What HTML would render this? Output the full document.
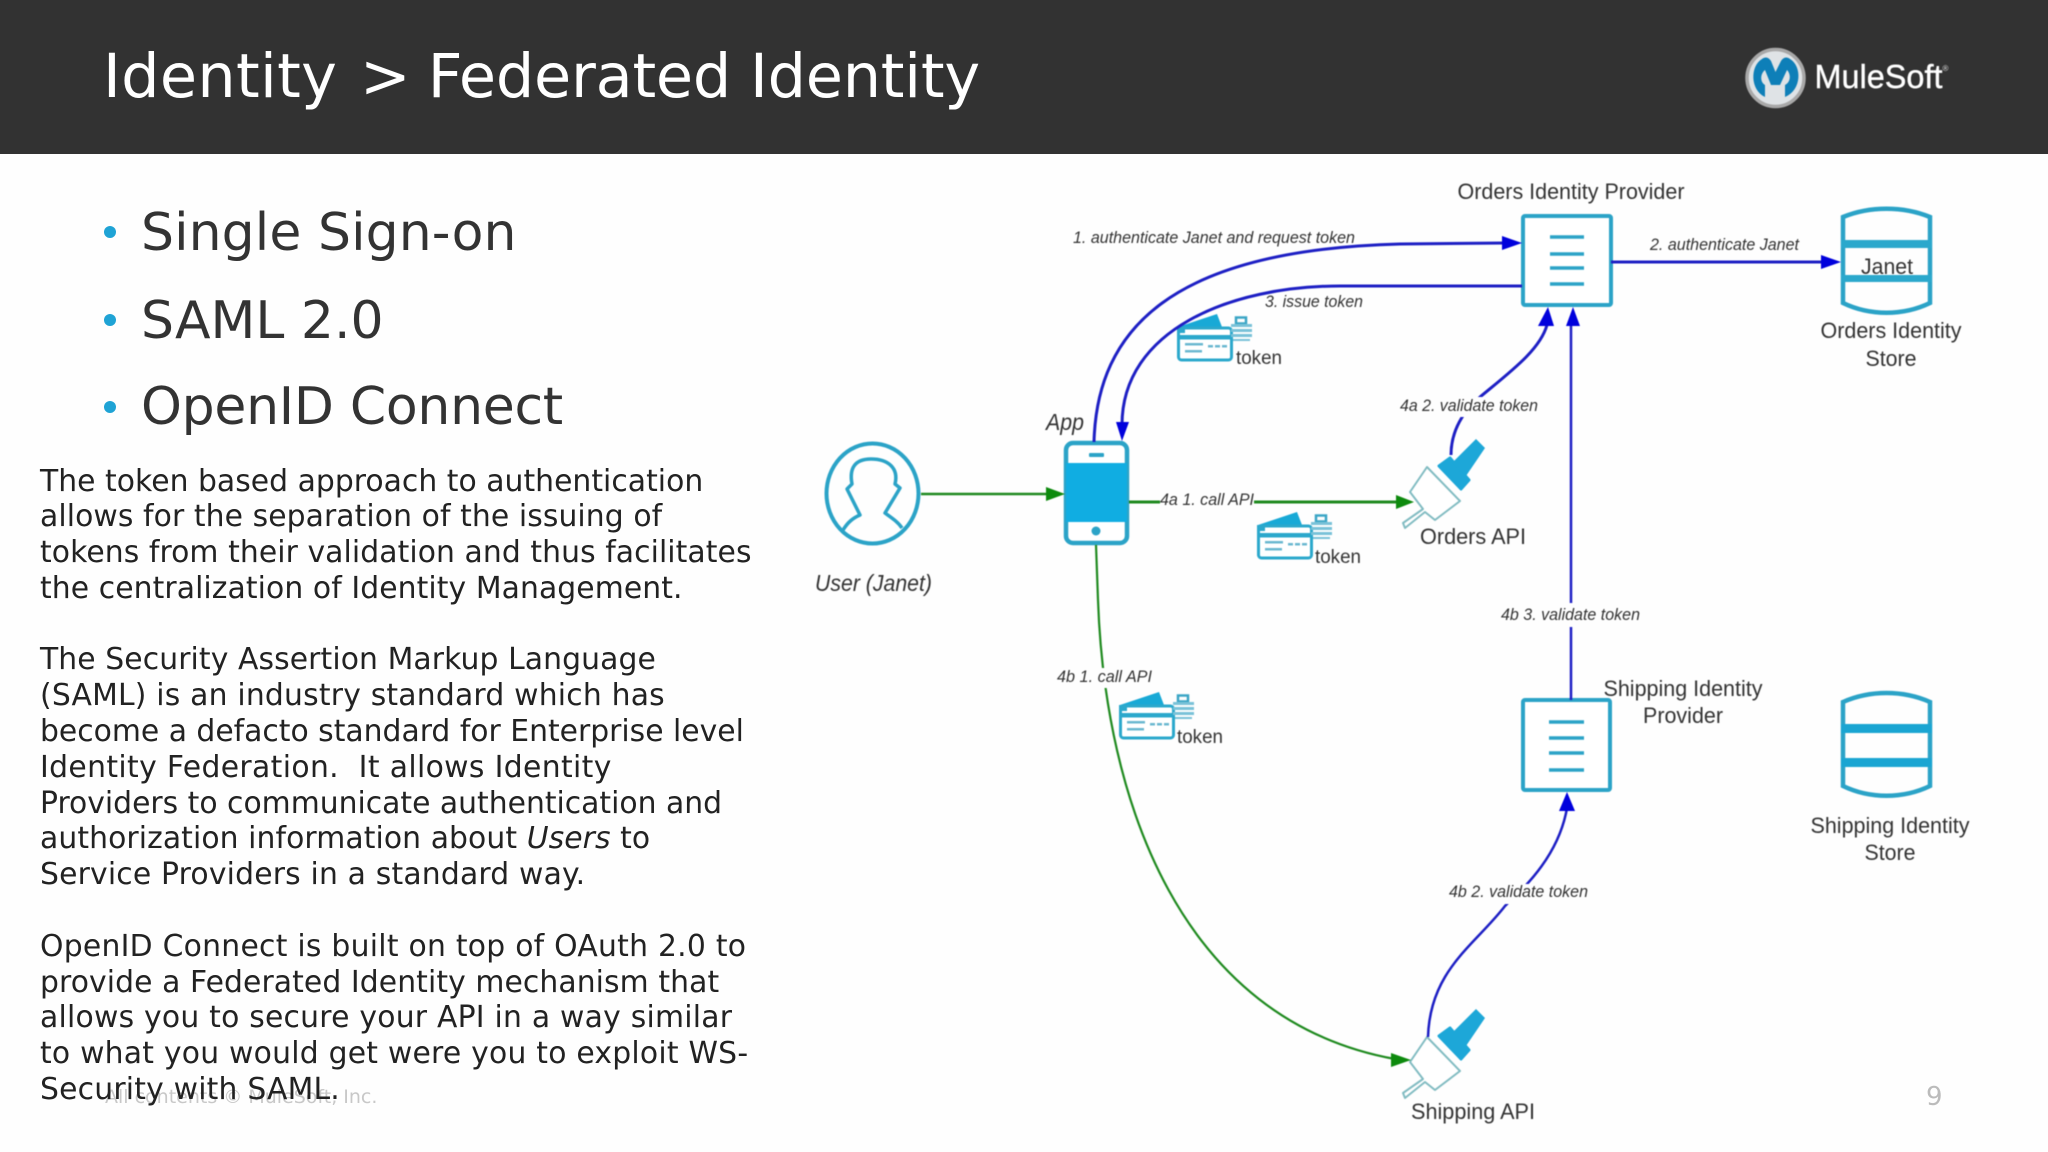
<!DOCTYPE html>
<html lang="en">
<head>
<meta charset="utf-8">
<title>Identity &gt; Federated Identity</title>
<style>
html,body{margin:0;padding:0;background:#fefefe;}
#s{position:relative;width:2048px;height:1152px;overflow:hidden;background:#fefefe;font-family:"DejaVu Sans",Verdana,sans-serif;}
#h{position:absolute;left:0;top:0;width:2048px;height:154px;background:#323232;}
.t{position:absolute;top:41px;font-size:60.45px;line-height:72px;color:#fff;white-space:nowrap;}
.b{position:absolute;left:141px;font-size:52px;line-height:62px;color:#333;white-space:nowrap;}
.d{position:absolute;left:104px;width:12px;height:12px;border-radius:50%;background:#1fa3d5;}
#body{position:absolute;left:40px;top:463.5px;width:760px;font-size:29.8px;line-height:35.8px;color:#222;filter:blur(.3px);}
#body div{height:35.8px;white-space:pre;}
#f{position:absolute;left:105px;top:1085px;font-size:19px;line-height:24px;color:#c8c8c8;white-space:nowrap;}
#n{position:absolute;left:1926px;top:1081px;font-size:26px;line-height:32px;color:#bbb;}
svg{position:absolute;left:0;top:0;}
.l{font-family:"Liberation Sans",sans-serif;font-style:italic;font-size:16.5px;fill:#333;}
.m{font-family:"Liberation Sans",sans-serif;font-size:22px;fill:#333;text-anchor:middle;}
.tk{font-family:"Liberation Sans",sans-serif;font-size:19.5px;fill:#333;}
.c{fill:none;stroke:#2ba3c7;}
#dg{filter:blur(.45px);}
</style>
</head>
<body>
<div id="s">
<div id="h"></div>
<div class="t" style="left:103px;letter-spacing:.33px">Identity</div>
<div class="t" style="left:360px">&gt;</div>
<div class="t" style="left:427.7px;letter-spacing:-.22px">Federated Identity</div>
<div class="d" style="top:226px"></div><div class="b" style="top:202px;letter-spacing:.09px">Single Sign-on</div>
<div class="d" style="top:314px"></div><div class="b" style="top:290px;">SAML 2.0</div>
<div class="d" style="top:401px"></div><div class="b" style="top:376px;letter-spacing:-.28px">OpenID Connect</div>
<div id="f">All contents © MuleSoft, Inc.</div>
<div id="body"><div style="letter-spacing:.03px">The token based approach to authentication</div><div style="letter-spacing:.09px">allows for the separation of the issuing of</div><div style="letter-spacing:.08px">tokens from their validation and thus facilitates</div><div style="letter-spacing:.09px">the centralization of Identity Management.</div><div></div><div style="letter-spacing:.1px">The Security Assertion Markup Language</div><div style="letter-spacing:.2px">(SAML) is an industry standard which has</div><div>become a defacto standard for Enterprise level</div><div style="letter-spacing:.36px">Identity Federation.  It allows Identity</div><div>Providers to communicate authentication and</div><div style="letter-spacing:.09px">authorization information about <i>Users</i> to</div><div style="letter-spacing:.18px">Service Providers in a standard way.</div><div></div><div style="letter-spacing:.26px">OpenID Connect is built on top of OAuth 2.0 to</div><div style="letter-spacing:.09px">provide a Federated Identity mechanism that</div><div style="letter-spacing:.23px">allows you to secure your API in a way similar</div><div style="letter-spacing:.23px">to what you would get were you to exploit WS-</div><div style="letter-spacing:.2px">Security with SAML.</div></div>
<div id="n">9</div>

<svg width="2048" height="1152" viewBox="0 0 2048 1152" xmlns="http://www.w3.org/2000/svg">
<defs>
<g id="token">
  <polygon points="3,12 42,-1 47,12" fill="#18a9d6"/>
  <rect x="3.5" y="13" width="53" height="32" rx="3" fill="#fff" stroke="#2ba8cc" stroke-width="3"/>
  <rect x="2" y="12" width="8" height="6" fill="#2ba8cc"/>
  <rect x="3" y="20" width="54" height="4.5" fill="#2ba8cc"/>
  <rect x="10" y="28" width="18" height="2.5" fill="#6bb8d0"/>
  <rect x="10" y="35" width="17" height="2.5" fill="#6bb8d0"/>
  <rect x="33" y="30" width="5" height="2.5" fill="#6bb8d0"/>
  <rect x="40" y="30" width="5" height="2.5" fill="#6bb8d0"/>
  <rect x="47" y="30" width="5" height="2.5" fill="#6bb8d0"/>
  <rect x="61" y="2.5" width="10" height="6" fill="none" stroke="#3aa5c5" stroke-width="2.5"/>
  <rect x="56" y="9" width="21" height="3" fill="#79c2d8"/>
  <rect x="56" y="14" width="21" height="3" fill="#79c2d8"/>
  <rect x="56" y="19" width="21" height="3" fill="#79c2d8"/>
  <rect x="58" y="24" width="17" height="2" fill="#79c2d8"/>
</g>
<g id="brush">
  <polygon points="1427,467 1410,492 1423,509 1403,523 1405,528 1425,512 1435,520 1460,501" fill="#fff" stroke="#82bcc2" stroke-width="2" stroke-linejoin="round"/>
  <polygon points="1439,466 1450,458 1469,480 1461,489" fill="#1da7d8" stroke="#1da7d8" stroke-width="3" stroke-linejoin="round"/>
  <polygon points="1452,463 1476,439 1485,448 1466,476" fill="#1da7d8"/>
</g>
</defs>

<g id="dg">
<!-- logo -->
<circle cx="1775.5" cy="78" r="28.5" fill="#dfe3e6" stroke="#a8a8a8" stroke-width="3.5"/>
<path d="M1765 97C1750 90 1750 66 1762 59C1766 56 1769 58 1771 61L1775.5 72L1781 61C1783 58 1786 56 1790 59C1802 66 1802 90 1785 97L1785 85C1791 82 1791 74 1787 70L1780 85L1771 85L1765 70C1760 74 1760 82 1765 85Z" fill="#0e7fb8"/>
<text x="1814.5" y="88" font-family="Liberation Sans,sans-serif" font-size="33.5" fill="#fff" stroke="#fff" stroke-width=".4" textLength="128" lengthAdjust="spacingAndGlyphs">MuleSoft</text>
<text x="1942.5" y="71" font-family="Liberation Sans,sans-serif" font-size="8" fill="#ddd">®</text>

<!-- user -->
<ellipse class="c" cx="872.5" cy="493.5" rx="46" ry="50" stroke-width="4"/>
<path class="c" stroke-width="3.5" stroke-linejoin="round" d="M843 530C848 522 853 518 860 515L847 489L852 484C849 468 855 459 871 459C888 459 899 468 895 484L900 488L885 513C892 518 898 522 902 528"/>

<!-- phone -->
<rect x="1066" y="443" width="61" height="100" rx="7" fill="#fff" stroke="#2ba3c7" stroke-width="4.5"/>
<rect x="1066" y="463" width="61" height="59" fill="#10ade2"/>
<rect x="1089" y="453" width="15" height="4" rx="1" fill="#2ba3c7"/>
<ellipse cx="1096" cy="531" rx="4.5" ry="4.5" fill="#2ba3c7"/>

<!-- IdP boxes -->
<rect x="1523" y="216" width="88" height="89" rx="2" fill="#fff" stroke="#2ba3c7" stroke-width="4"/>
<path stroke="#2ba3c7" stroke-width="3.5" d="M1550 237H1584M1550 254H1584M1550 268H1584M1550 284H1584"/>
<rect x="1523" y="700" width="87" height="90" rx="2" fill="#fff" stroke="#2ba3c7" stroke-width="4"/>
<path stroke="#2ba3c7" stroke-width="3.5" d="M1549 722H1584M1549 738H1584M1549 753H1584M1549 770H1584"/>

<!-- DBs -->
<path class="c" stroke-width="4.5" d="M1843 217C1870 206 1903 206 1930 217V303C1903 316 1870 316 1843 303Z"/>
<rect x="1841" y="240" width="91" height="8" fill="#2ba8cc"/>
<rect x="1841" y="275" width="91" height="7" fill="#2ba8cc"/>
<path class="c" stroke-width="4.5" d="M1843 702C1870 690 1903 690 1930 702V786C1903 799 1870 799 1843 786Z"/>
<rect x="1841" y="724" width="91" height="9" fill="#1aa5d2"/>
<rect x="1841" y="758" width="91" height="9" fill="#1aa5d2"/>

<!-- brushes -->
<use href="#brush"/>
<use href="#brush" y="570"/>

<!-- tokens -->
<use href="#token" x="1175" y="315"/>
<use href="#token" x="1255" y="513"/>
<use href="#token" x="1117" y="693"/>

<!-- blue connectors -->
<g fill="none" stroke="#1d1fc4" stroke-width="3">
  <path d="M1094 442C1097 330 1170 250 1400 244L1505 243"/>
  <path d="M1522 286L1340 286C1230 286 1122 330 1122 425"/>
  <path d="M1611 262L1823 262"/>
  <path d="M1451 455C1451 425 1470 405 1480 397C1510 372 1540 350 1547 325"/>
  <path d="M1571 325V603M1571 627V700" stroke-width="2.5"/>
  <path d="M1428 1037C1430 970 1475 945 1505 906C1518 893 1558 860 1567 808" stroke-width="2.5"/>
</g>
<g fill="#0000dc">
  <polygon points="1502,236 1522,243 1502,250"/>
  <polygon points="1116,422 1129,422 1122,441"/>
  <polygon points="1821,255 1841,262 1821,269"/>
  <polygon points="1538,326 1554,326 1548,307"/>
  <polygon points="1566,326 1580,326 1573,307"/>
  <polygon points="1559,811 1575,811 1567,792"/>
</g>

<!-- green connectors -->
<g fill="none" stroke="#1f8a1f">
  <path d="M921 494L1050 494" stroke-width="2.5"/>
  <path d="M1129 502H1160M1254 502H1398" stroke-width="3"/>
  <path d="M1096 545L1098 600C1105 800 1180 1020 1395 1059" stroke-width="2.2"/>
</g>
<g fill="#0d8a0d">
  <polygon points="1046,487 1065,494 1046,501"/>
  <polygon points="1396,495 1414,502 1396,509"/>
  <polygon points="1391,1053 1411,1060 1391,1067"/>
</g>

<!-- label backgrounds -->
<rect x="1448" y="884" width="142" height="20" fill="#fefefe"/>
<rect x="1056" y="668" width="98" height="20" fill="#fefefe"/>
<rect x="1400" y="397" width="140" height="20" fill="#fefefe"/>

<!-- connector labels -->
<text class="l" x="1073" y="243" textLength="282" lengthAdjust="spacingAndGlyphs">1. authenticate Janet and request token</text>
<text class="l" x="1265" y="307" textLength="98" lengthAdjust="spacingAndGlyphs">3. issue token</text>
<text class="l" x="1650" y="250" textLength="149" lengthAdjust="spacingAndGlyphs">2. authenticate Janet</text>
<text class="l" x="1160" y="505" textLength="94" lengthAdjust="spacingAndGlyphs">4a 1. call API</text>
<text class="l" x="1400" y="411" textLength="138" lengthAdjust="spacingAndGlyphs">4a 2. validate token</text>
<text class="l" x="1501" y="620" textLength="139" lengthAdjust="spacingAndGlyphs">4b 3. validate token</text>
<text class="l" x="1057" y="682" textLength="95" lengthAdjust="spacingAndGlyphs">4b 1. call API</text>
<text class="l" x="1449" y="897" textLength="139" lengthAdjust="spacingAndGlyphs">4b 2. validate token</text>

<!-- node labels -->
<text class="l" x="1046" y="430" style="font-size:23px" textLength="38" lengthAdjust="spacingAndGlyphs">App</text>
<text class="l" x="815" y="591" style="font-size:23px" textLength="117" lengthAdjust="spacingAndGlyphs">User (Janet)</text>
<text class="m" x="1571" y="199" textLength="227" lengthAdjust="spacingAndGlyphs">Orders Identity Provider</text>
<text class="m" x="1887" y="274" textLength="52" lengthAdjust="spacingAndGlyphs">Janet</text>
<text class="m" x="1891" y="338" textLength="141" lengthAdjust="spacingAndGlyphs">Orders Identity</text>
<text class="m" x="1891" y="366" textLength="51" lengthAdjust="spacingAndGlyphs">Store</text>
<text class="m" x="1473" y="544" textLength="106" lengthAdjust="spacingAndGlyphs">Orders API</text>
<text class="m" x="1683" y="696" textLength="159" lengthAdjust="spacingAndGlyphs">Shipping Identity</text>
<text class="m" x="1683" y="723" textLength="80" lengthAdjust="spacingAndGlyphs">Provider</text>
<text class="m" x="1890" y="833" textLength="159" lengthAdjust="spacingAndGlyphs">Shipping Identity</text>
<text class="m" x="1890" y="860" textLength="51" lengthAdjust="spacingAndGlyphs">Store</text>
<text class="m" x="1473" y="1119" textLength="124" lengthAdjust="spacingAndGlyphs">Shipping API</text>
<text class="tk" x="1236" y="364" textLength="46" lengthAdjust="spacingAndGlyphs">token</text>
<text class="tk" x="1315" y="563" textLength="46" lengthAdjust="spacingAndGlyphs">token</text>
<text class="tk" x="1177" y="743" textLength="46" lengthAdjust="spacingAndGlyphs">token</text>
</g>
</svg>
</div>
</body>
</html>
